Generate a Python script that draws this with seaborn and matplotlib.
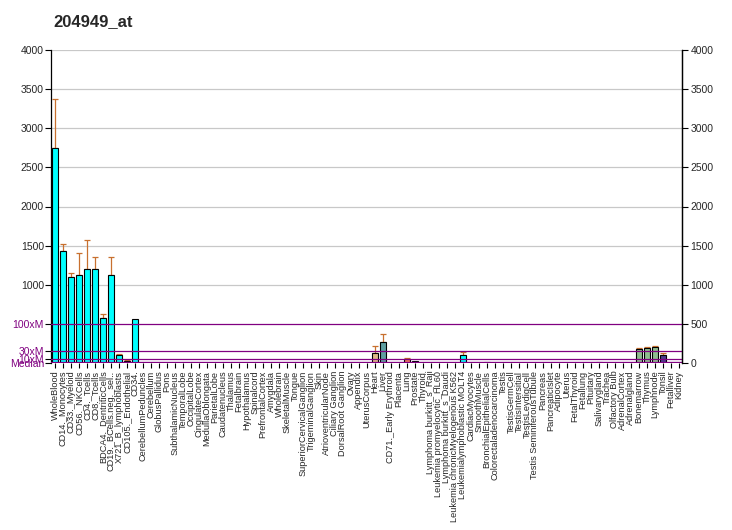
import matplotlib
matplotlib.use("Agg")
import matplotlib.pyplot as plt
import seaborn as sns
import pandas as pd

title = "204949_at"

categories = [
    "WholeBlood", "CD14._Monocytes", "CD33._Myeloid", "CD56._NKCells", "CD4._Tcells",
    "CD8._Tcells", "BDCA4._DentriticCells", "CD19._BCells.neg._sel..", "X721_B_lymphoblasts",
    "CD105._Endothelial", "CD34.", "CerebellumPeduncles", "Cerebellum", "GlobusPallidus",
    "Pons", "SubthalamicNucleus", "TemporalLobe", "OccipitalLobe", "CingulateCortex",
    "MedullaOblongata", "ParietalLobe", "Caudatenucleus", "Thalamus", "Fetalbrain",
    "Hypothalamus", "Spinalcord", "PrefrontalCortex", "Amygdala", "Wholebrain",
    "SkeletalMuscle", "Tongue", "SuperiorCervicalGanglion", "TrigeminalGanglion", "Skin",
    "AtrioventricularNode", "Ciliary Ganglion", "DorsalRoot Ganglion", "Ovary", "Appendix",
    "UterusCorpus", "Heart", "Liver", "CD71._Early Erythroid", "Placenta", "Lung",
    "Prostate", "Thyroid", "Lymphoma burkitt_s_Raji", "Leukemia promyelocytic_HL60",
    "Lymphoma burkitt_s_Daudi", "Leukemia chronicMyelogenous K562",
    "Leukemialymphoblastic MOLT4", "CardiacMyocytes", "SmoothMuscle",
    "BronchialEpithelialCells", "Colorectaladenocarcinoma", "Testis", "TestisGermCell",
    "TestisIntersitial", "TestisLeydigCell", "Testis SeminiferousTubule", "Pancreas",
    "PancreaticIslet", "Adipocyte", "Uterus", "FetalThyroid", "Fetallung", "Pituitary",
    "Salivarygland", "Trachea", "Olfactory Bulb", "AdrenalCortex", "Adrenalgland",
    "Bonemarrow", "Thymus", "Lymphnode", "Tonsil", "Fetalliver", "Kidney",
]

values = [
    2752, 1432, 1099, 1124, 1201, 1201, 573, 1124, 98, 26, 560,
    0, 0, 0, 0, 0, 0, 0, 0, 0, 0, 0, 0, 0, 0, 0, 0, 0, 0, 0, 0, 0, 0, 0, 0, 0, 0, 0, 0,
    0, 128, 265, 0, 0, 55, 26, 0,
    0, 0, 0, 0, 102, 0, 0, 14, 0,
    0, 0, 0, 0, 0, 0, 0, 0, 0, 0, 0, 0, 12, 0, 0, 0, 0,
    179, 192, 209, 102, 0, 0,
]

# top of the error bar (0 = no error bar)
error_tops = [
    3380, 1522, 1150, 1406, 1573, 1355, 624, 1355, 115, 38, 0,
    0, 0, 0, 0, 0, 0, 0, 0, 0, 0, 0, 0, 0, 0, 0, 0, 0, 0, 0, 0, 0, 0, 0, 0, 0, 0, 0, 0,
    0, 214, 368, 0, 0, 64, 0, 0,
    0, 0, 0, 0, 141, 0, 0, 0, 0,
    0, 0, 0, 0, 0, 0, 0, 0, 0, 0, 0, 0, 0, 0, 0, 0, 0,
    192, 205, 222, 124, 0, 0,
]

bar_colors = (
    ["#00FFFF"] * 11
    + ["#B0B0B0"] * 28
    + ["#DEB887", "#DEB887", "#5F9EA0", "#B0B0B0", "#B0B0B0", "#F07860", "#401048", "#B0B0B0"]
    + ["#B0B0B0"] * 4 + ["#00FFFF", "#B0B0B0", "#B0B0B0", "#300030", "#B0B0B0"]
    + ["#B0B0B0"] * 12 + ["#C86060"] + ["#B0B0B0"] * 4
    + ["#8FBC8F", "#8FBC8F", "#8FBC8F", "#4B3C8C", "#B0B0B0", "#B0B0B0"]
)

ref_levels = [5, 50, 150, 500]
ref_labels = ["Median", "10xM", "30xM", "100xM"]
num_ticks = [1000, 1500, 2000, 2500, 3000, 3500, 4000]
right_ticks = [0, 500, 1000, 1500, 2000, 2500, 3000, 3500, 4000]

sns.set_theme(style="white")
plt.rcParams["font.family"] = ["Liberation Sans", "DejaVu Sans"]

PURPLE = "#800080"
ERR = "#C8702F"

fig = plt.figure(figsize=(7.32, 5.30), dpi=100)
ax = fig.add_axes([51 / 732, 1 - 363 / 530, 631 / 732, 313 / 530])

df = pd.DataFrame({"tissue": categories, "value": values})
sns.barplot(data=df, x="tissue", y="value", hue="tissue",
            palette=dict(zip(categories, bar_colors)), legend=False, saturation=1,
            width=0.8, edgecolor="black", linewidth=0.8, ax=ax, zorder=3)

for i, (v, e) in enumerate(zip(values, error_tops)):
    if e > 0:
        ax.errorbar(i, v, yerr=[[0], [e - v]], color=ERR, elinewidth=0.9,
                    capsize=2.5, capthick=0.9, zorder=2)

for g in num_ticks:
    ax.axhline(g, color="#C8C8C8", lw=0.9, zorder=0)
for lvl in ref_levels[1:]:
    ax.axhline(lvl, color=PURPLE, lw=0.9, zorder=4)
ax.axhline(ref_levels[0], color=PURPLE, lw=2.4, zorder=4)

ax.set_xlim(-0.5, len(categories) - 0.62)
ax.set_ylim(0, 4000)

ax.set_yticks(ref_levels + num_ticks)
ax.set_yticklabels(ref_labels + [str(t) for t in num_ticks])
for lab in ax.get_yticklabels()[:4]:
    lab.set_color(PURPLE)
    lab.set_fontsize(8)
ax.tick_params(axis="y", length=4, width=0.8, color="black", pad=1, labelsize=7.5, left=True)
ax.tick_params(axis="x", length=3.5, width=0.8, color="black", pad=2, labelsize=6.6,
               rotation=90, bottom=True)
ax.set_xlabel("")
ax.set_ylabel("")

for s in ["top", "bottom"]:
    ax.spines[s].set_visible(False)
for s in ["left", "right"]:
    ax.spines[s].set_color("black")
    ax.spines[s].set_linewidth(0.9)

ax2 = ax.twinx()
ax2.set_ylim(0, 4000)
ax2.set_yticks(right_ticks)
ax2.set_yticklabels([str(t) for t in right_ticks])
ax2.tick_params(axis="y", length=4, width=0.8, color="black", pad=2, labelsize=7.5, right=True)
for s in ["top", "bottom", "left"]:
    ax2.spines[s].set_visible(False)
ax2.spines["right"].set_color("black")
ax2.spines["right"].set_linewidth(0.9)
ax2.grid(False)
ax.grid(False)

fig.text(53 / 732, 1 - 22 / 530, title, fontsize=12, fontweight="bold", va="center", ha="left")

fig.savefig("out.png", dpi=100)
